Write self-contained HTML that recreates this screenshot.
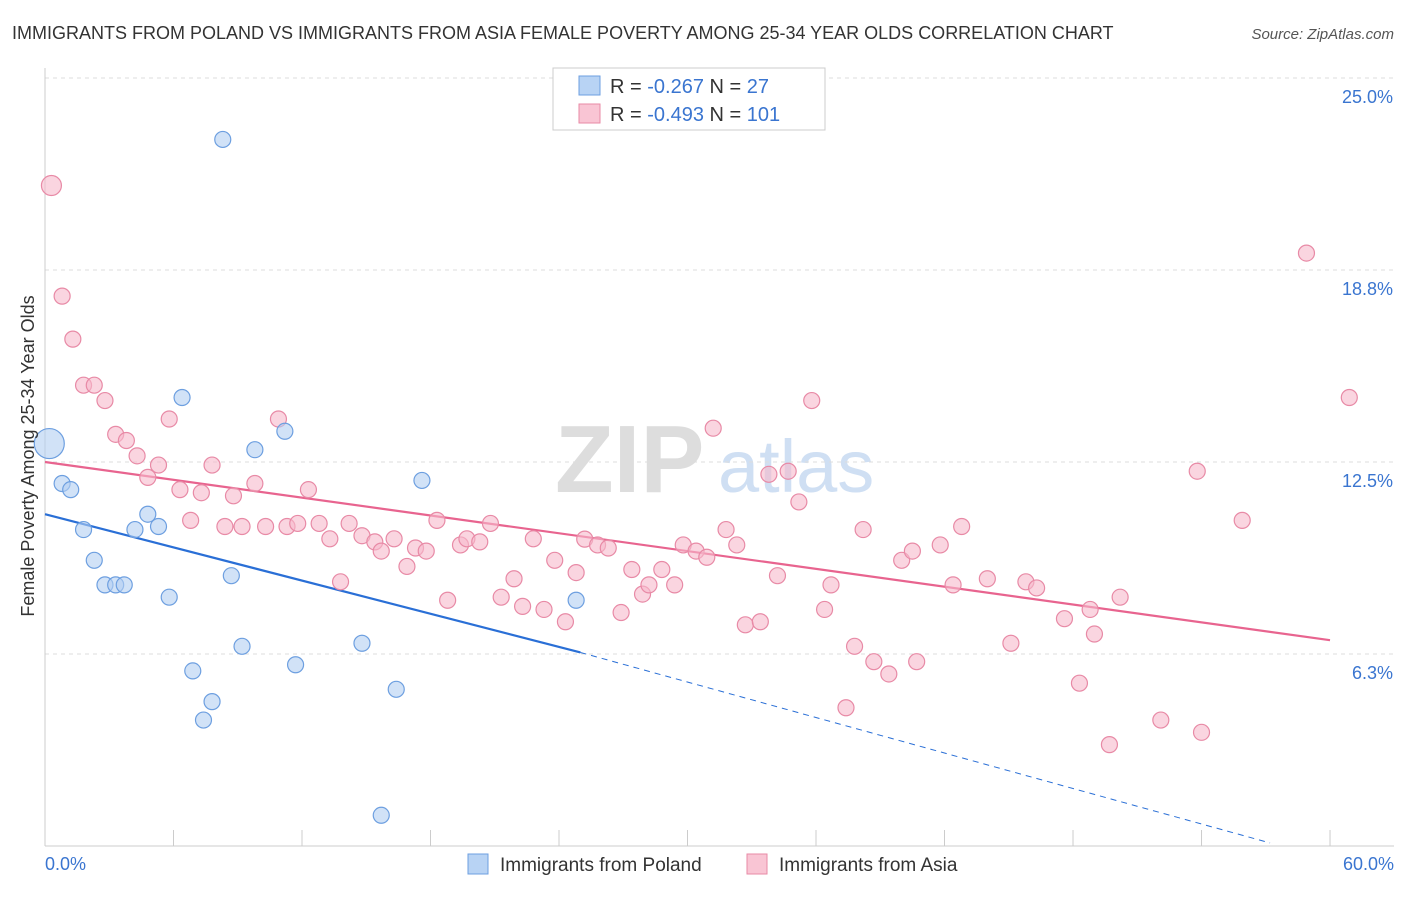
<!DOCTYPE html>
<html><head><meta charset="utf-8"><style>
body{margin:0;background:#fff;font-family:"Liberation Sans",sans-serif;}
svg text{font-family:"Liberation Sans",sans-serif;}
</style></head><body>
<svg id="c" width="1406" height="892" viewBox="0 0 1406 892" xmlns="http://www.w3.org/2000/svg">
<text x="12" y="39" font-size="18" fill="#333">IMMIGRANTS FROM POLAND VS IMMIGRANTS FROM ASIA FEMALE POVERTY AMONG 25-34 YEAR OLDS CORRELATION CHART</text>
<text x="1394" y="39" font-size="15" fill="#555" font-style="italic" text-anchor="end">Source: ZipAtlas.com</text>
<g><text x="555" y="492" font-size="96" fill="#ddd" font-family="Liberation Serif" font-weight="bold">ZIP</text><text x="718" y="492" font-size="74" fill="#cfdff3">atlas</text></g>
<g id="grid"></g>
<g id="axes"></g>
<g id="lines"></g>
<g id="pts"></g>
<g>
<rect x="553" y="68" width="272" height="62" fill="#fff" stroke="#ccc"/>
<rect x="579" y="76" width="21" height="19" fill="#b8d3f4" stroke="#6d9fe0"/>
<text x="610" y="93" font-size="20" fill="#333">R = <tspan fill="#3a75d0">-0.267</tspan>   N =  <tspan fill="#3a75d0">27</tspan></text>
<rect x="579" y="104" width="21" height="19" fill="#f9c5d4" stroke="#e88aa6"/>
<text x="610" y="121" font-size="20" fill="#333">R = <tspan fill="#3a75d0">-0.493</tspan>   N = <tspan fill="#3a75d0">101</tspan></text>
</g>
<g>
<rect x="468" y="854" width="20" height="20" fill="#b8d3f4" stroke="#6d9fe0"/>
<text x="500" y="871" font-size="19" fill="#333">Immigrants from Poland</text>
<rect x="747" y="854" width="20" height="20" fill="#f9c5d4" stroke="#e88aa6"/>
<text x="779" y="871" font-size="19" fill="#333">Immigrants from Asia</text>
</g>
<text transform="translate(34,456) rotate(-90)" font-size="18" fill="#333" text-anchor="middle">Female Poverty Among 25-34 Year Olds</text>
</svg>
<script>
const yTicks=[6.25,12.5,18.75,25];
const yTickLabels=["6.3%","12.5%","18.8%","25.0%"];
const xTickLabels=["0.0%","60.0%"];
const polandX=[0.2,0.8,1.2,1.8,2.3,2.8,3.3,3.7,4.2,4.8,5.3,5.8,6.4,6.9,7.4,7.8,8.3,8.7,9.2,9.8,11.2,11.7,14.8,16.4,17.6,24.8,15.7];
const polandY=[13.1,11.8,11.6,10.3,9.3,8.5,8.5,8.5,10.3,10.8,10.4,8.1,14.6,5.7,4.1,4.7,23.0,8.8,6.5,12.9,13.5,5.9,6.6,5.1,11.9,8.0,1.0];
const asiaX=[0.3,0.8,1.3,1.8,2.3,2.8,3.3,3.8,4.3,4.8,5.3,5.8,6.3,6.8,7.3,7.8,8.4,8.8,9.2,9.8,10.3,10.9,11.3,11.8,12.3,12.8,13.3,13.8,14.2,14.8,15.4,15.7,16.3,16.9,17.3,17.8,18.3,18.8,19.4,19.7,20.3,20.8,21.3,21.9,22.3,22.8,23.3,23.8,24.3,24.8,25.2,25.8,26.3,26.9,27.4,27.9,28.2,28.8,29.4,29.8,30.4,30.9,31.2,31.8,32.3,32.7,33.4,33.8,34.2,34.7,35.2,35.8,36.4,36.7,37.4,37.8,38.2,38.7,39.4,40.0,40.5,40.7,41.8,42.4,42.8,44.0,45.1,45.8,46.3,47.6,48.3,48.8,49.0,49.7,50.2,52.1,53.8,54.0,55.9,58.9,60.9];
const asiaY=[21.5,17.9,16.5,15.0,15.0,14.5,13.4,13.2,12.7,12.0,12.4,13.9,11.6,10.6,11.5,12.4,10.4,11.4,10.4,11.8,10.4,13.9,10.4,10.5,11.6,10.5,10.0,8.6,10.5,10.1,9.9,9.6,10.0,9.1,9.7,9.6,10.6,8.0,9.8,10.0,9.9,10.5,8.1,8.7,7.8,10.0,7.7,9.3,7.3,8.9,9.99,9.8,9.7,7.6,9.0,8.2,8.5,9.0,8.5,9.8,9.6,9.4,13.6,10.3,9.8,7.2,7.3,12.1,8.8,12.2,11.2,14.5,7.7,8.5,4.5,6.5,10.3,6.0,5.6,9.3,9.6,6.0,9.8,8.5,10.4,8.7,6.6,8.6,8.4,7.4,5.3,7.7,6.9,3.3,8.1,4.1,12.2,3.7,10.6,19.3,14.6];
const polandTrend=[10.8,6.3,0.1];
const asiaTrend=[12.5,6.7];
const NS="http://www.w3.org/2000/svg";
const X=v=>45+v*21.417, Y=v=>846-v*30.72;
function mk(t,a,p){const e=document.createElementNS(NS,t);for(const k in a)e.setAttribute(k,a[k]);p.appendChild(e);return e;}
const grid=document.getElementById('grid'),axes=document.getElementById('axes'),lines=document.getElementById('lines'),pts=document.getElementById('pts');
yTicks.forEach((t,i)=>{
 const l=mk('line',{x1:45,x2:1394,y1:Y(t),y2:Y(t),stroke:'#ddd','stroke-dasharray':'4,4'},grid);
 
 
 const tx=mk('text',{x:1393,y:Y(t)+25,'font-size':18,fill:'#3a75d0','text-anchor':'end'},axes);
 tx.textContent=yTickLabels[i];
 
 
});
mk('line',{x1:45,x2:45,y1:68,y2:846,stroke:'#ccc'},axes);
mk('line',{x1:45,x2:1394,y1:846,y2:846,stroke:'#ccc'},axes);
for(let i=0;i<=10;i++){const tk=mk('line',{x1:X(i*6),x2:X(i*6),y1:830,y2:846,stroke:'#ccc'},axes);
 
 }
[[0,'start',45],[60,'end',1394]].forEach((d,i)=>{const t=mk('text',{x:d[2],y:870,'font-size':18,fill:'#3a75d0','text-anchor':d[1]},axes);t.textContent=xTickLabels[i];
 
 });
function dot(x,y,r,f,s,n){const c=mk('circle',{cx:X(x),cy:Y(y),r:r,fill:f,stroke:s,'stroke-width':1.2,'fill-opacity':0.6},pts);
 
 }
asiaX.forEach((x,i)=>dot(x,asiaY[i],(i==0?10:8),'#f7b9cb','#e88aa6','asia-point'));
polandX.forEach((x,i)=>dot(x,polandY[i],(i==0?15:8),'#b3cff2','#6d9fe0','poland-point'));
const pl=mk('line',{x1:X(0),y1:Y(polandTrend[0]),x2:X(25),y2:Y(polandTrend[1]),stroke:'#2a6fd6','stroke-width':2.2},lines);


const pd=mk('line',{x1:X(25),y1:Y(polandTrend[1]),x2:X(57.2),y2:Y(polandTrend[2]),stroke:'#2a6fd6','stroke-width':1,'stroke-dasharray':'6,5'},lines);


const al=mk('line',{x1:X(0),y1:Y(asiaTrend[0]),x2:X(60),y2:Y(asiaTrend[1]),stroke:'#e8648f','stroke-width':2.2},lines);


</script>
</body></html>
